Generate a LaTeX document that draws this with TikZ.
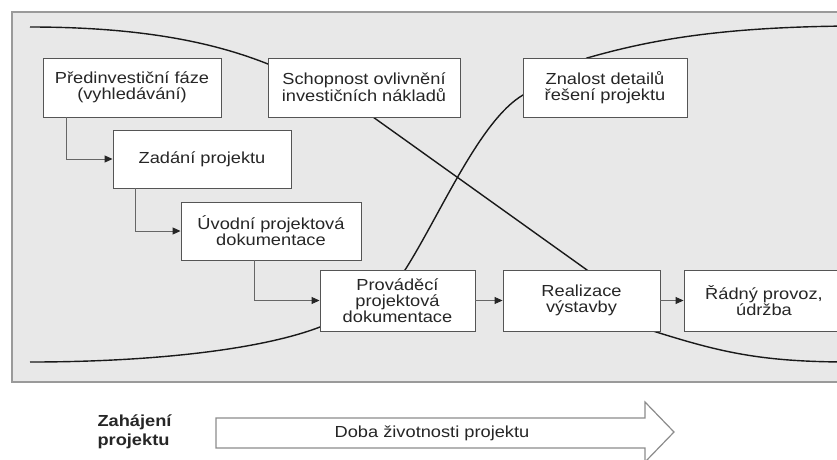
\documentclass[tikz,border=0pt]{standalone}
\usepackage{fontspec}
\setmainfont{Liberation Sans}[FakeStretch=1.14]
\usetikzlibrary{arrows.meta,calc}
\definecolor{panel}{HTML}{E8E8E8}
\definecolor{panelline}{HTML}{9A9A9A}
\definecolor{boxline}{HTML}{555555}
\definecolor{connline}{HTML}{666666}
\definecolor{txt}{HTML}{262626}
\begin{document}
\begin{tikzpicture}[x=1pt,y=-1pt,
  box/.style={draw=boxline, fill=white, line width=0.9pt, inner sep=0pt, align=center,
    font=\fontsize{16}{16}\selectfont, text=txt},
  conn/.style={draw=connline, line width=0.9pt, -{Triangle[length=8pt,width=7pt,color=black!85]}},
  curveline/.style={line width=1.4pt, black!90}]
\clip (0,0) rectangle (837,459);
\fill[white] (0,0) rectangle (837,459);
% panel
\draw[fill=panel, draw=panelline, line width=1.5pt] (12,12) rectangle (860,382);
% curves (behind boxes)
\draw[curveline] (30,27) .. controls (150,27) and (220,45) .. (268,64) -- (373,117) -- (587,270) -- (653,331)
   .. controls (720,352) and (760,362) .. (850,362);
\draw[curveline] (30,362) .. controls (150,362) and (260,350) .. (320,327) -- (405,270)
   .. controls (440,215) and (480,120) .. (523,95) -- (587,58)
   .. controls (650,40) and (720,27) .. (850,26);
% boxes
\node[box, minimum width=178pt, minimum height=59pt] (b1) at (132,87.5) {Předinvestiční fáze\\(vyhledávání)};
\node[box, minimum width=192pt, minimum height=59pt] (s) at (364,87.5) {Schopnost ovlivnění\\investičních nákladů};
\node[box, minimum width=164pt, minimum height=59pt] (z) at (605,87.5) {Znalost detailů\\řešení projektu};
\node[box, minimum width=178pt, minimum height=58pt] (b2) at (202,159) {Zadání projektu};
\node[box, minimum width=180pt, minimum height=58pt] (b3) at (271,231) {Úvodní projektová\\dokumentace};
\node[box, minimum width=155pt, minimum height=61pt] (b4) at (397.5,300.5) {Prováděcí\\projektová\\dokumentace};
\node[box, minimum width=157pt, minimum height=61pt] (b5) at (581.5,300.5) {Realizace\\výstavby};
\node[box, minimum width=160pt, minimum height=61pt] (b6) at (764,300.5) {Řádný provoz,\\údržba};
% connectors
\draw[conn] ([xshift=24pt]b1.south west) |- (b2.west);
\draw[conn] ([xshift=23pt]b2.south west) |- (b3.west);
\draw[conn] ([xshift=74pt]b3.south west) |- (b4.west);
\draw[conn] (b4.east) -- (b5.west);
\draw[conn] (b5.east) -- (b6.west);
% bottom
\node[font=\fontsize{16}{19}\selectfont\bfseries, text=txt, align=left, anchor=west] (start) at (94,432) {Zahájení\\projektu};
\draw[draw=black!45, line width=1.2pt, fill=white] (216,418) -- (645,418) -- (645,402) -- (674,432) -- (645,462) -- (645,448) -- (216,448) -- cycle;
\node[font=\fontsize{16}{16}\selectfont, text=txt] (life) at (432,433) {Doba životnosti projektu};
\end{tikzpicture}
\end{document}
